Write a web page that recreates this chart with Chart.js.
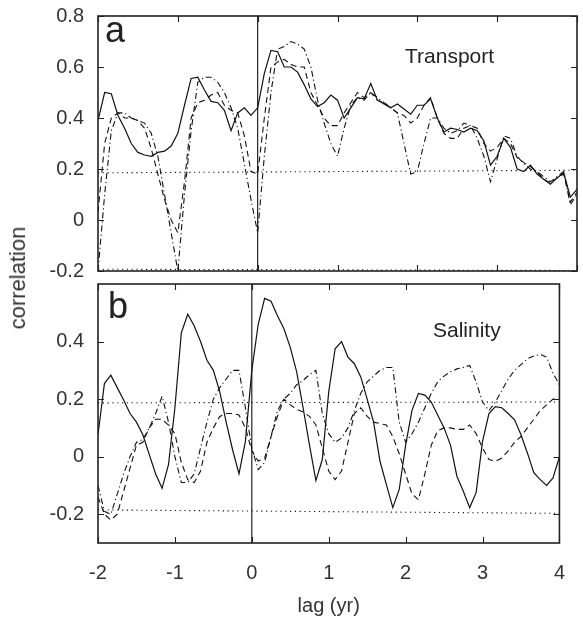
<!DOCTYPE html>
<html>
<head>
<meta charset="utf-8">
<script src="https://cdn.jsdelivr.net/npm/chart.js@4.4.0/dist/chart.umd.min.js"></script>
<style>
  html, body { margin: 0; padding: 0; background: #fff; }
  #wrap { position: relative; width: 583px; height: 618px; overflow: hidden; }
  #wrap canvas { position: absolute; left: 0; }
  #chartA { top: 0; }
  #chartB { top: 266px; }
  #ylab {
    position: absolute; left: 18px; top: 278px;
    transform: translate(-50%, -50%) rotate(-90deg);
    font: 22px "Liberation Sans", Arial, sans-serif; color: #333; white-space: nowrap;
  }
</style>
</head>
<body>
<div id="wrap">
  <canvas id="chartA" width="583" height="290" style="width:583px;height:290px"></canvas>
  <canvas id="chartB" width="583" height="352" style="width:583px;height:352px"></canvas>
  <div id="ylab">correlation</div>
</div>
<script>
// lag axis: monthly steps from -2 to 4 yr
const xTicks = [-2, -1, 0, 1, 2, 3, 4]
const transTicks = [-0.2, 0, 0.2, 0.4, 0.6, 0.8]
const saliTicks = [-0.2, 0, 0.2, 0.4]

// panel a - transport
const transSolid = [0.39, 0.50, 0.495, 0.41, 0.36, 0.30, 0.265, 0.255, 0.25, 0.265, 0.27, 0.29,
  0.34, 0.45, 0.555, 0.56, 0.51, 0.465, 0.46, 0.43, 0.35, 0.42, 0.44, 0.41,
  0.44, 0.575, 0.665, 0.66, 0.60, 0.60, 0.58, 0.53, 0.475, 0.445, 0.46, 0.49,
  0.47, 0.40, 0.44, 0.48, 0.475, 0.535, 0.47, 0.455, 0.44, 0.455, 0.435, 0.415,
  0.45, 0.45, 0.475, 0.40, 0.345, 0.36, 0.355, 0.345, 0.36, 0.35, 0.31, 0.215,
  0.25, 0.32, 0.285, 0.20, 0.19, 0.215, 0.18, 0.16, 0.14, 0.165, 0.185, 0.09, 0.12]
const transDash = [0.03, 0.30, 0.40, 0.42, 0.40, 0.40, 0.39, 0.36, 0.28, 0.18, 0.08, 0.0,
  -0.05, 0.15, 0.40, 0.46, 0.47, 0.49, 0.50, 0.45, 0.43, 0.42, 0.33, 0.19,
  0.18, 0.40, 0.60, 0.62, 0.63, 0.61, 0.60, 0.60, 0.50, 0.45, 0.40, 0.37,
  0.37, 0.42, 0.46, 0.50, 0.48, 0.50, 0.47, 0.46, 0.44, 0.42, 0.41, 0.38,
  0.40, 0.45, 0.48, 0.40, 0.34, 0.32, 0.32, 0.36, 0.37, 0.36, 0.30, 0.27,
  0.285, 0.32, 0.30, 0.245, 0.225, 0.21, 0.19, 0.16, 0.145, 0.165, 0.18, 0.07, 0.11]
const transDashDot = [-0.20, 0.10, 0.35, 0.42, 0.42, 0.40, 0.39, 0.38, 0.34, 0.25, 0.10, -0.05,
  -0.20, 0.10, 0.35, 0.54, 0.56, 0.56, 0.54, 0.50, 0.44, 0.36, 0.22, 0.08,
  -0.05, 0.25, 0.50, 0.67, 0.68, 0.70, 0.69, 0.67, 0.60, 0.47, 0.38, 0.30,
  0.25, 0.36, 0.45, 0.48, 0.47, 0.50, 0.48, 0.46, 0.44, 0.42, 0.30, 0.18,
  0.19, 0.30, 0.40, 0.40, 0.36, 0.34, 0.35, 0.38, 0.37, 0.32, 0.25, 0.15,
  0.24, 0.33, 0.32, 0.25, 0.22, 0.20, 0.19, 0.17, 0.15, 0.17, 0.19, 0.06, 0.10]

// panel b - salinity
const saliSolid = [0.076, 0.254, 0.283, 0.24, 0.197, 0.15, 0.12, 0.076, 0.007, -0.06, -0.11, -0.028,
  0.17, 0.43, 0.495, 0.455, 0.40, 0.335, 0.30, 0.225, 0.12, 0.024, -0.06, 0.053,
  0.30, 0.46, 0.55, 0.54, 0.49, 0.445, 0.38, 0.295, 0.17, 0.04, -0.083, -0.01,
  0.225, 0.375, 0.40, 0.346, 0.323, 0.277, 0.20, 0.12, -0.016, -0.097, -0.177, -0.114,
  0.04, 0.162, 0.22, 0.214, 0.19, 0.145, 0.10, 0.04, -0.068, -0.12, -0.177, -0.125,
  0.053, 0.15, 0.174, 0.17, 0.15, 0.128, 0.076, 0.013, -0.056, -0.08, -0.10, -0.074, 0.0]
const saliDash = [-0.14, -0.20, -0.22, -0.20, -0.12, -0.04, 0.04, 0.05, 0.10, 0.13, 0.13, 0.11,
  0.08, -0.02, -0.08, -0.09, -0.05, 0.05, 0.10, 0.14, 0.15, 0.15, 0.145, 0.10,
  0.02, -0.015, -0.005, 0.07, 0.14, 0.20, 0.18, 0.165, 0.155, 0.14, 0.11, 0.03,
  -0.05, -0.08, -0.05, 0.05, 0.15, 0.17, 0.14, 0.12, 0.115, 0.11, 0.07, 0.01,
  -0.06, -0.13, -0.15, -0.06, 0.04, 0.09, 0.10, 0.10, 0.095, 0.095, 0.11, 0.08,
  0.03, -0.01, -0.016, -0.005, 0.02, 0.05, 0.07, 0.10, 0.13, 0.16, 0.18, 0.20, 0.20]
const saliDashDot = [-0.10, -0.19, -0.20, -0.13, -0.06, 0.0, 0.05, 0.06, 0.10, 0.15, 0.21, 0.12,
  0.0, -0.09, -0.09, -0.06, 0.03, 0.12, 0.20, 0.24, 0.27, 0.30, 0.30, 0.17,
  0.03, -0.045, -0.02, 0.07, 0.16, 0.20, 0.22, 0.25, 0.265, 0.285, 0.30, 0.15,
  0.08, 0.05, 0.065, 0.10, 0.16, 0.22, 0.26, 0.28, 0.30, 0.31, 0.31, 0.12,
  0.05, 0.08, 0.12, 0.17, 0.22, 0.26, 0.28, 0.295, 0.305, 0.31, 0.317, 0.26,
  0.19, 0.16, 0.19, 0.23, 0.27, 0.30, 0.32, 0.34, 0.35, 0.355, 0.346, 0.29, 0.25]

// significance levels (dotted), at the two ends of the lag range
const sigLags = [-2, 4]
const transSigUp = [0.185, 0.195]
const transSigLo = [-0.193, -0.198]
const saliSigUp = [0.187, 0.19]
const saliSigLo = [-0.185, -0.197]

const lags = transSolid.map((_, i) => -2 + i / 12)

const FONT = '"Liberation Sans", Arial, Helvetica, sans-serif'
Chart.defaults.font.family = FONT
Chart.defaults.color = '#333'

const SOLID = []
const DASH = [6, 4]
const DASHDOT = [6, 3, 1.2, 3]
const DOT = [1.2, 3.6]

function line(xs, ys, dash, width) {
    return {
        data: ys.map((v, i) => ({x: xs[i], y: v})),
        borderColor: '#111',
        borderWidth: width || 1.1,
        borderDash: dash,
        pointRadius: 0,
        tension: 0,
        fill: false
    }
}

// frame, inward ticks, zero-lag line and the panel texts
const framePlugin = {
    id: 'frame',
    afterDatasetsDraw(chart, args, opts) {
        const {ctx, chartArea: a, scales: {x, y}} = chart
        ctx.save()
        ctx.strokeStyle = '#111'
        ctx.lineWidth = 1.1
        const x0 = x.getPixelForValue(0)
        ctx.beginPath()
        ctx.moveTo(x0, a.top)
        ctx.lineTo(x0, a.bottom)
        ctx.stroke()

        ctx.strokeStyle = '#222'
        ctx.beginPath()
        xTicks.forEach(v => {
            const p = Math.round(x.getPixelForValue(v)) + 0.5
            ctx.moveTo(p, a.top); ctx.lineTo(p, a.top + 6)
            ctx.moveTo(p, a.bottom); ctx.lineTo(p, a.bottom - 6)
        })
        opts.yTicks.forEach(v => {
            const p = Math.round(y.getPixelForValue(v)) + 0.5
            ctx.moveTo(a.left, p); ctx.lineTo(a.left + 6, p)
            ctx.moveTo(a.right, p); ctx.lineTo(a.right - 6, p)
        })
        ctx.stroke()

        ctx.lineWidth = 1.6
        ctx.strokeRect(a.left, a.top, a.right - a.left, a.bottom - a.top)

        ctx.fillStyle = '#222'
        ctx.textBaseline = 'alphabetic'
        ctx.font = '36px ' + FONT
        ctx.fillText(opts.letter, a.left + opts.letterPos[0], a.top + opts.letterPos[1])
        ctx.font = '21px ' + FONT
        ctx.fillText(opts.title, a.left + opts.titlePos[0], a.top + opts.titlePos[1])
        ctx.restore()
    }
}

function makeChart(id, sets, sig, yMin, yMax, yTicks, isBottom, panel) {
    const ctx = document.getElementById(id).getContext('2d')
    return new Chart(ctx, {
        type: 'line',
        data: {
            datasets: [
                line(sigLags, sig[0], DOT, 1.1),
                line(sigLags, sig[1], DOT, 1.1),
                line(lags, sets[2], DASHDOT),
                line(lags, sets[1], DASH),
                line(lags, sets[0], SOLID, 1.2)
            ]
        },
        options: {
            responsive: false,
            animation: false,
            layout: {
                padding: isBottom ? {top: 18, right: 6, bottom: 0, left: 0}
                                  : {top: 16, right: 6, bottom: 19, left: 0}
            },
            plugins: {
                legend: {display: false},
                tooltip: {enabled: false},
                frame: panel
            },
            scales: {
                x: {
                    type: 'linear',
                    min: -2,
                    max: 4,
                    display: isBottom,
                    grid: {display: false, drawTicks: false},
                    border: {display: false},
                    afterBuildTicks: s => { s.ticks = xTicks.map(v => ({value: v})) },
                    afterFit: s => { s.height = isBottom ? 75 : 0 },
                    ticks: {
                        padding: 18,
                        font: {size: 20},
                        color: '#333',
                        maxRotation: 0,
                        callback: v => String(v)
                    },
                    title: {
                        display: true,
                        text: 'lag (yr)',
                        font: {size: 20},
                        color: '#333',
                        padding: {top: 0, bottom: 0}
                    }
                },
                y: {
                    min: yMin,
                    max: yMax,
                    grid: {display: false, drawTicks: false},
                    border: {display: false},
                    afterBuildTicks: s => { s.ticks = yTicks.map(v => ({value: v})) },
                    afterFit: s => {
                        s.width = 98
                        s.paddingTop = 0
                        s.paddingBottom = 0
                    },
                    ticks: {
                        padding: 14,
                        font: {size: 20},
                        color: '#333',
                        callback: v => String(v)
                    }
                }
            }
        },
        plugins: [framePlugin]
    })
}

makeChart('chartA', [transSolid, transDash, transDashDot], [transSigUp, transSigLo],
    -0.2, 0.8, transTicks, false,
    {yTicks: transTicks, letter: 'a', letterPos: [7, 26], title: 'Transport', titlePos: [307, 47]})

makeChart('chartB', [saliSolid, saliDash, saliDashDot], [saliSigUp, saliSigLo],
    -0.3, 0.6, saliTicks, true,
    {yTicks: saliTicks, letter: 'b', letterPos: [10, 34], title: 'Salinity', titlePos: [335, 53]})
</script>
</body>
</html>
